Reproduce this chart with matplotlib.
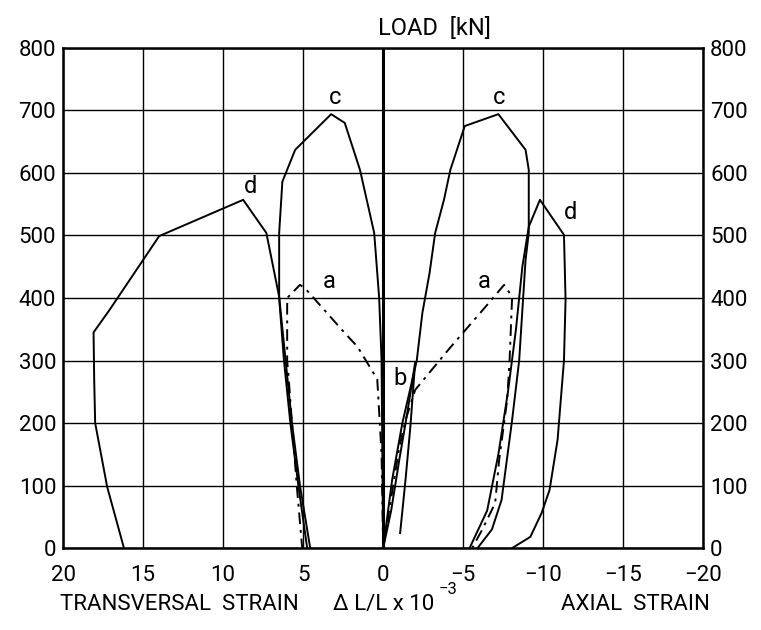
import matplotlib
matplotlib.use("Agg")
import matplotlib.pyplot as plt

plt.rcParams['font.family'] = ['Roboto', 'DejaVu Sans']

# strain x 10^-3 (positive = transversal, negative = axial), load in kN
a_trans_x = [0.0, 0.1, 0.3, 0.37, 1.6, 2.4, 4.9, 5.2, 6.0, 6.0, 5.9, 5.7, 5.4, 5.06]
a_trans_y = [0, 150, 240, 270, 322, 344, 416, 421, 400, 300, 270, 200, 100, 0]
a_axial_x = [0.0, -0.5, -1.0, -1.4, -2.0, -4.1, -6.4, -7.56, -8.06, -7.9, -7.75, -7.25, -7.0, -6.2, -5.56]
a_axial_y = [0, 80, 160, 205, 253, 318, 386, 421, 402, 300, 237, 141, 72, 30, 0]

b_axial_x = [0.0, -0.5, -1.0, -1.5, -2.0, -1.7, -1.4, -1.06]
b_axial_y = [0, 60, 140, 215, 297, 194, 110, 24]

c_trans_x = [4.75, 5.3, 5.8, 6.2, 6.5, 6.5, 6.3, 5.5, 3.25, 2.4, 1.45, 0.56, 0.25, 0.1, 0.0]
c_trans_y = [0, 100, 200, 300, 400, 504, 586, 637, 694, 680, 605, 504, 400, 300, 0]
c_axial_x = [0.0, -0.56, -1.2, -2.1, -2.45, -2.9, -3.25, -3.8, -4.2, -5.1, -7.2, -8.9, -9.1, -9.1, -8.9, -8.5, -8.06, -7.4, -6.8, -5.9]
c_axial_y = [0, 109, 200, 300, 376, 440, 504, 557, 605, 675, 694, 637, 605, 504, 461, 300, 205, 77, 30, 0]

d_trans_x = [16.2, 17.25, 18.0, 18.06, 18.1, 17.1, 14.0, 8.75, 7.3, 6.5, 6.1, 5.7, 5.2, 4.56]
d_trans_y = [0, 98, 200, 269, 345, 381, 499, 557, 504, 402, 301, 200, 100, 0]
d_axial_x = [-5.4, -6.5, -7.2, -7.8, -8.3, -8.7, -9.1, -9.8, -11.3, -11.4, -11.3, -10.9, -10.4, -9.9, -9.2, -8.06]
d_axial_y = [0, 60, 150, 250, 350, 450, 514, 557, 501, 397, 300, 173, 93, 56, 18, 0]

labels = ['a', 'a', 'b', 'c', 'c', 'd', 'd']
label_x = [3.4, -6.3, -1.06, 3.0, -7.25, 8.3, -11.7]
label_y = [427, 426, 272, 720, 720, 579, 536]

xticks = [20, 15, 10, 5, 0, -5, -10, -15, -20]
yticks = [0, 100, 200, 300, 400, 500, 600, 700, 800]

fig = plt.figure(figsize=(7.61, 6.30), dpi=100)
ax = fig.add_axes([0.083, 0.130, 0.841, 0.794])

ax.set_xlim(20, -20)
ax.set_ylim(0, 800)
ax.set_xticks(xticks)
ax.set_yticks(yticks)
ax.set_xticklabels([str(t).replace('-', '\u2212') for t in xticks])
ax.grid(True, color='black', linewidth=1.0)
ax.axvline(0, color='black', linewidth=2.2)
for s in ax.spines.values():
    s.set_linewidth(1.8)
ax.tick_params(length=0, labelsize=16)
ax.tick_params(axis='x', pad=12)
ax.tick_params(axis='y', pad=5, labelright=True)

lw = 1.4
ax.plot(c_trans_x, c_trans_y, color='black', lw=lw)
ax.plot(c_axial_x, c_axial_y, color='black', lw=lw)
ax.plot(d_trans_x, d_trans_y, color='black', lw=lw)
ax.plot(d_axial_x, d_axial_y, color='black', lw=lw)
ax.plot(b_axial_x, b_axial_y, color='black', lw=lw)
ax.plot(a_trans_x, a_trans_y, color='black', lw=lw, dashes=(6, 3, 1.5, 3))
ax.plot(a_axial_x, a_axial_y, color='black', lw=lw, dashes=(6, 3, 1.5, 3))

for s, x, y in zip(labels, label_x, label_y):
    ax.text(x, y, s, fontsize=17, ha='center', va='center')

ax.text(0.3, 812, 'LOAD  [kN]', fontsize=17, ha='left', va='bottom')

fig.text(0.079, 0.04, 'TRANSVERSAL  STRAIN', fontsize=16, ha='left', va='center')
fig.text(0.4375, 0.04, '\u0394 L/L x 10', fontsize=16, ha='left', va='center')
fig.text(0.576, 0.064, '\u22123', fontsize=12, ha='left', va='center')
fig.text(0.933, 0.04, 'AXIAL  STRAIN', fontsize=16, ha='right', va='center')

fig.savefig('out.png', dpi=100)
